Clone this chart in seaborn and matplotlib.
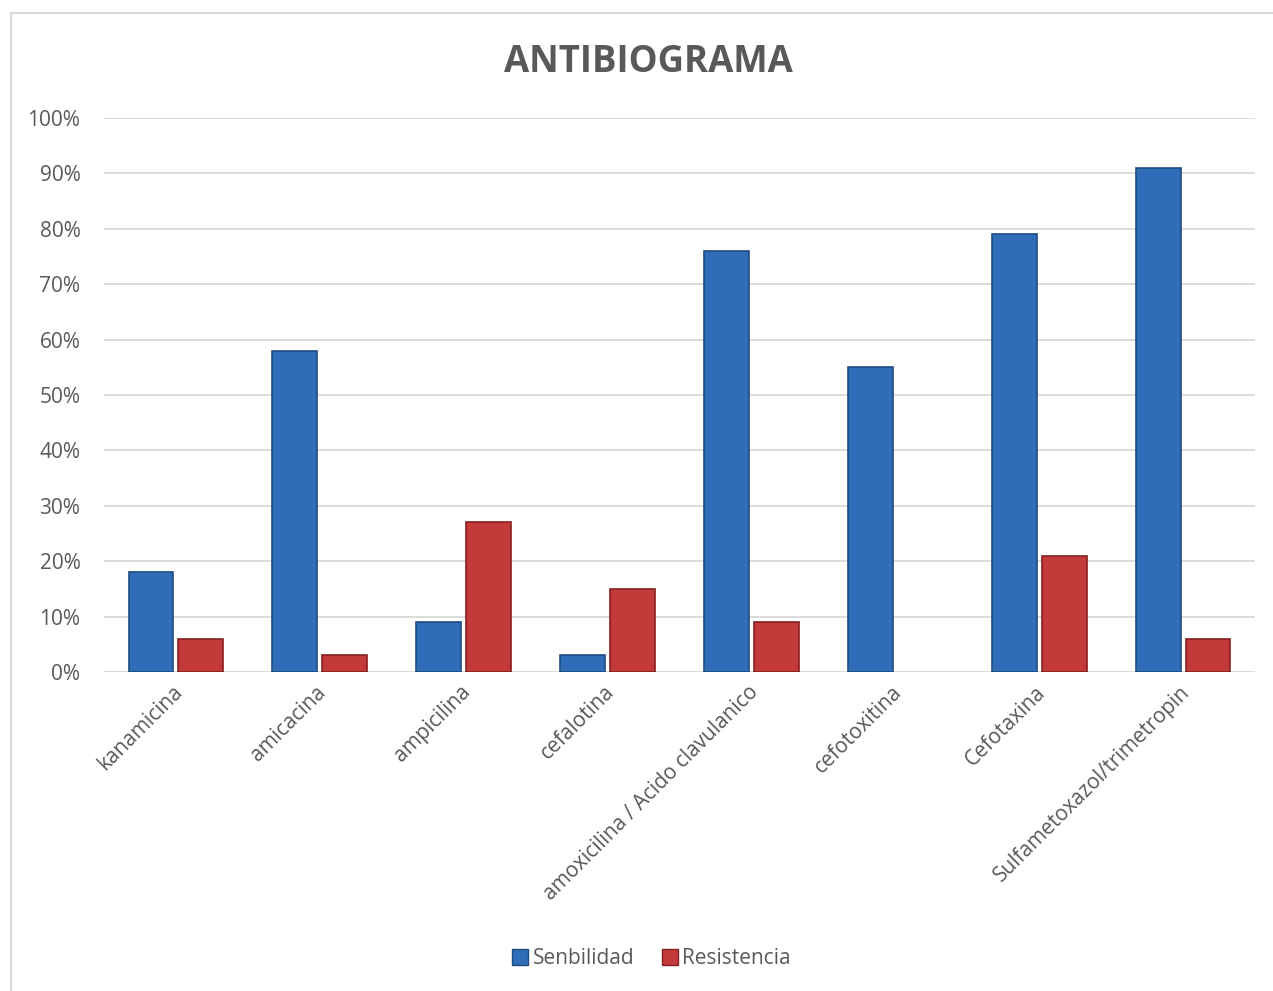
import matplotlib
matplotlib.use("Agg")
import matplotlib.pyplot as plt
import matplotlib.transforms as mtransforms
import seaborn as sns
import pandas as pd
from matplotlib.ticker import PercentFormatter
from matplotlib.lines import Line2D

categories = ["kanamicina", "amicacina", "ampicilina", "cefalotina",
              "amoxicilina / Acido clavulanico", "cefotoxitina", "Cefotaxina",
              "Sulfametoxazol/trimetropin"]
senbilidad = [18, 58, 9, 3, 76, 55, 79, 91]
resistencia = [6, 3, 27, 15, 9, 0, 21, 6]
series_names = ["Senbilidad", "Resistencia"]
yticks = [0, 10, 20, 30, 40, 50, 60, 70, 80, 90, 100]

df = pd.DataFrame({
    "cat": categories * 2,
    "serie": [series_names[0]] * len(categories) + [series_names[1]] * len(categories),
    "val": senbilidad + resistencia,
})

sns.set_theme(style="white")
plt.rcParams["font.family"] = ["Open Sans", "DejaVu Sans"]
txt = "#595959"

fig = plt.figure(figsize=(12.73, 9.91), dpi=100)
ax = fig.add_axes([104/1273, 1-672/991, 1151/1273, (672-118)/991])

palette = {"Senbilidad": "#2F6DB8", "Resistencia": "#C43A3A"}
edges = {"Senbilidad": "#1F4C82", "Resistencia": "#852020"}
sns.barplot(data=df, x="cat", y="val", hue="serie", palette=palette,
            saturation=1, width=0.694, gap=0.1, ax=ax, legend=False, zorder=3)
for i, cont in enumerate(ax.containers):
    for p in cont.patches:
        if p.get_height() > 0:
            p.set_edgecolor(edges[series_names[i]])
            p.set_linewidth(1.2)
        else:
            p.set_visible(False)

ax.set_ylim(0, 100)
ax.set_xlim(-0.5, len(categories) - 0.5)
ax.set_yticks(yticks)
ax.yaxis.set_major_formatter(PercentFormatter(decimals=0))
ax.grid(axis="y", color="#D9D9D9", linewidth=1.3, zorder=0)
for s in ax.spines.values():
    s.set_visible(False)
ax.axhline(0, color="#D9D9D9", linewidth=1.3, zorder=1)
ax.tick_params(axis="y", colors=txt, labelsize=15, length=0, pad=17)
ax.tick_params(axis="x", colors=txt, labelsize=15, length=0, pad=7)
ax.set_xticks(range(len(categories)))
ax.set_xticklabels(categories, rotation=45, ha="right", rotation_mode="anchor")
shift = mtransforms.ScaledTranslation(-4/100, 0, fig.dpi_scale_trans)
for lab in ax.get_xticklabels():
    lab.set_transform(lab.get_transform() + shift)
ax.set_xlabel("")
ax.set_ylabel("")

fig.text(0.509, 1-62/991, "ANTIBIOGRAMA", ha="center", va="center",
         fontsize=26.3, fontweight="bold", color=txt)

handles = [Line2D([0], [0], marker="s", linestyle="", markersize=11,
                  markerfacecolor=palette[n], markeredgecolor=edges[n]) for n in series_names]
fig.legend(handles, series_names, loc="center", bbox_to_anchor=(0.511, 1-959/991),
           ncol=2, frameon=False, fontsize=15, labelcolor=txt,
           handletextpad=0.1, columnspacing=1.2, handlelength=1.0)

# chart border (left and top visible)
fig.add_artist(Line2D([11/1273, 11/1273], [0, 1-13/991], transform=fig.transFigure,
                      color="#D9D9D9", linewidth=1.5))
fig.add_artist(Line2D([11/1273, 1], [1-13/991, 1-13/991], transform=fig.transFigure,
                      color="#D9D9D9", linewidth=1.5))

fig.savefig("out.png", dpi=100)
